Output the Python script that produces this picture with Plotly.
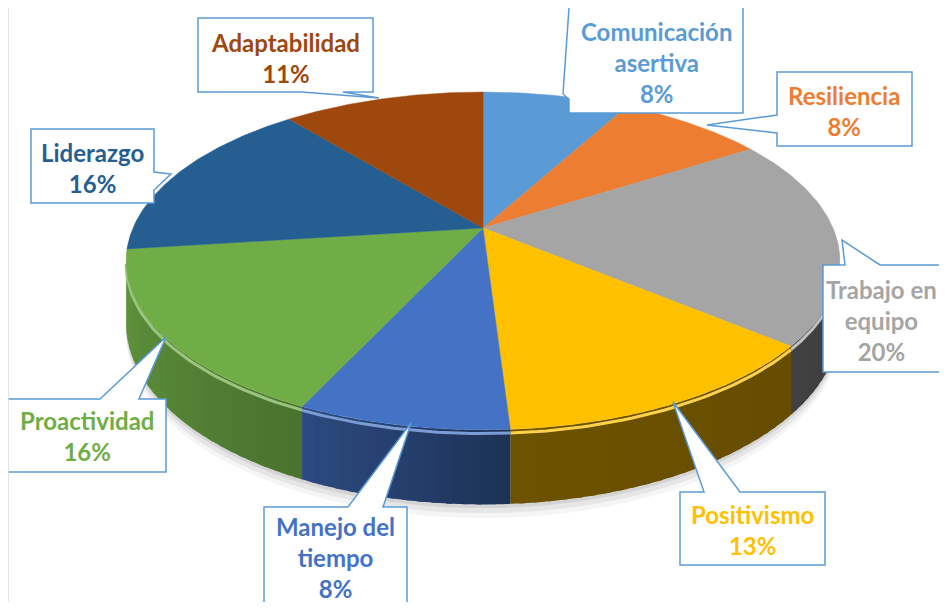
import numpy as np
import plotly.graph_objects as go

# ---------------- data ----------------
categories = ["Comunicación asertiva", "Resiliencia", "Trabajo en equipo", "Positivismo",
              "Manejo del tiempo", "Proactividad", "Liderazgo", "Adaptabilidad"]
label_text = ["Comunicación<br>asertiva", "Resiliencia", "Trabajo en<br>equipo", "Positivismo",
              "Manejo del<br>tiempo", "Proactividad", "Liderazgo", "Adaptabilidad"]
values = [8, 8, 20, 13, 8, 16, 16, 11]
colors = ["#5B9BD5", "#ED7D31", "#A5A5A5", "#FFC000", "#4472C4", "#70AD47", "#255E91", "#9E480E"]

# ---------------- style / geometry ----------------
CX, CY = 483, 228          # apex of the pie (page px)
A, B, P = 350, 162.5, 0.195  # ellipse half-axes and perspective strength
H = 60                     # thickness
PAGE_OFF = 8               # browser body margin
W, HT = 947 - 2 * PAGE_OFF, 610 - 2 * PAGE_OFF


def proj(theta_deg, drop=0.0):
    t = np.radians(theta_deg)
    d = 1 + P * np.cos(t)
    return CX + A * np.sin(t) / d, CY - B * np.cos(t) / d + drop / d


def hex2rgb(h):
    h = h.lstrip("#")
    return tuple(int(h[i:i + 2], 16) for i in (0, 2, 4))


def shade(h, f):
    r, g, b = hex2rgb(h)
    return "rgb(%d,%d,%d)" % (r * f, g * f, b * f)


def tint(h, f):
    r, g, b = hex2rgb(h)
    return "rgb(%d,%d,%d)" % (r + (255 - r) * f, g + (255 - g) * f, b + (255 - b) * f)


total = float(sum(values))
bounds = np.concatenate([[0], np.cumsum(values)]) / total * 360.0
VL = np.degrees(np.arccos(-P))
VR = 360 - VL

fig = go.Figure()

# soft shadow under the pie
for extra, op in [(11, 0.04), (7, 0.06), (3, 0.08)]:
    th = np.linspace(VL - 10, VR + 10, 200)
    xs_t, ys_t = proj(th, 0)
    xs_b, ys_b = proj(th[::-1], H + extra)
    fig.add_trace(go.Scatter(x=np.r_[xs_t, xs_b], y=np.r_[ys_t, ys_b], fill="toself",
                             mode="none", fillcolor="rgba(0,0,0,%.2f)" % op,
                             hoverinfo="skip", showlegend=False))

# side walls (visible front part)
shade_pts = [VL, 130, 176, 190, 205, 235, VR]
shade_val = [0.36, 0.40, 0.43, 0.55, 0.66, 0.78, 0.86]
for i, c in enumerate(colors):
    a0, a1 = max(bounds[i], VL), min(bounds[i + 1], VR)
    if a1 <= a0:
        continue
    n = max(1, int(np.ceil((a1 - a0) / 2)))
    edges = np.linspace(a0, a1, n + 1)
    for k, (s0, s1) in enumerate(zip(edges[:-1], edges[1:])):
        s1e = min(s1 + 0.8, a1)
        th = np.linspace(s0, s1e, 6)
        xt, yt = proj(th, 0)
        xb, yb = proj(th[::-1], H)
        f = float(np.interp((s0 + s1) / 2, shade_pts, shade_val))
        col = shade(c, f)
        fig.add_trace(go.Scatter(x=np.r_[xt, xb], y=np.r_[yt, yb], fill="toself",
                                 mode="none", fillcolor=col,
                                 hoverinfo="skip", showlegend=False))
    # rim highlight
    th = np.linspace(a0, a1, 40)
    xr, yr = proj(th, 3)
    fig.add_trace(go.Scatter(x=xr, y=yr, mode="lines",
                             line=dict(color=tint(c, 0.3), width=3),
                             hoverinfo="skip", showlegend=False))

# top faces
for i, c in enumerate(colors):
    th = np.linspace(bounds[i], bounds[i + 1], 80)
    xa, ya = proj(th, 0)
    fig.add_trace(go.Scatter(x=np.r_[CX, xa, CX], y=np.r_[CY, ya, CY], fill="toself",
                             mode="lines", line=dict(color=c, width=0.5), fillcolor=c,
                             name=categories[i], hoverinfo="skip", showlegend=False))

# ---------------- callouts ----------------
# box (x0, y0, x1, y1), wedge edge, wedge base (a, b), tip, text centre
callouts = [
    ((569, 7, 743, 113), "left", (8, 99), (563, 94), (656, 62)),
    ((777, 72, 912, 146), "left", (115, 133), (707, 125), (844, 111)),
    ((823, 265, 965, 372), "top", (845, 880), (842, 240), (881, 320)),
    ((680, 492, 825, 565), "top", (704, 740), (673, 402), (752, 530)),
    ((264, 507, 407, 625), "top", (348, 383), (411, 423), (335, 557)),
    ((2, 399, 166, 472), "top", (100, 139), (166, 337), (87, 436)),
    ((31, 129, 154, 203), "right", (172, 190), (171, 174), (92, 168)),
    ((198, 18, 373, 92), "bottom", (302, 343), (379, 98), (285, 58)),
]

shapes = []
annotations = []
for i, (box, edge, base, tip, tc) in enumerate(callouts):
    x0, y0, x1, y1 = box
    a, b = base
    tx, ty = tip
    if edge == "top":
        pts = [(x0, y0), (a, y0), (tx, ty), (b, y0), (x1, y0), (x1, y1), (x0, y1)]
    elif edge == "right":
        pts = [(x0, y0), (x1, y0), (x1, a), (tx, ty), (x1, b), (x1, y1), (x0, y1)]
    elif edge == "bottom":
        pts = [(x0, y0), (x1, y0), (x1, y1), (b, y1), (tx, ty), (a, y1), (x0, y1)]
    else:
        pts = [(x0, y0), (x1, y0), (x1, y1), (x0, y1), (x0, b), (tx, ty), (x0, a)]
    path = "M " + " L ".join("%g,%g" % p for p in pts) + " Z"
    shapes.append(dict(type="path", path=path, xref="x", yref="y",
                       line=dict(color="#5B9BD5", width=1.5), fillcolor="white", layer="above"))
    annotations.append(dict(x=tc[0], y=tc[1], xref="x", yref="y", showarrow=False,
                            text=f"{label_text[i]}<br>{values[i]}%",
                            font=dict(family="Lato", size=24, color=colors[i], weight="bold"),
                            xanchor="center", yanchor="middle", align="center"))

# chart border (top and left visible)
shapes.append(dict(type="line", x0=8, x1=960, y0=7, y1=7, xref="x", yref="y",
                   line=dict(color="#D9D9D9", width=1.5), layer="above"))
shapes.append(dict(type="line", x0=8, x1=8, y0=7, y1=620, xref="x", yref="y",
                   line=dict(color="#D9D9D9", width=1.5), layer="above"))

fig.update_layout(
    width=W, height=HT,
    margin=dict(l=0, r=0, t=0, b=0),
    paper_bgcolor="white", plot_bgcolor="white",
    xaxis=dict(range=[PAGE_OFF, PAGE_OFF + W], visible=False, fixedrange=True),
    yaxis=dict(range=[PAGE_OFF + HT, PAGE_OFF], visible=False, fixedrange=True),
    shapes=shapes, annotations=annotations, showlegend=False,
)

fig.write_html("out.html")
